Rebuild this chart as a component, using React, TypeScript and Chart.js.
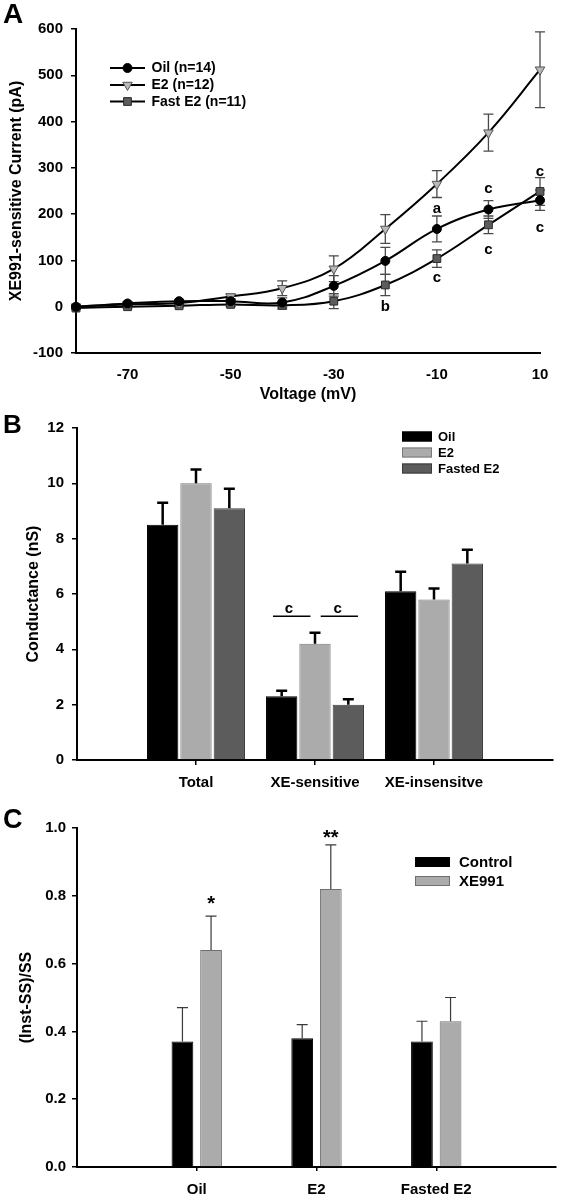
import React, { useEffect, useRef } from 'react';
import { Chart, registerables } from 'chart.js';

Chart.register(...registerables);

const FONT = '"Liberation Sans", Arial, Helvetica, sans-serif';
Chart.defaults.font.family = FONT;
Chart.defaults.font.weight = 'bold';
Chart.defaults.color = '#000';

// ---------------- Panel A data ----------------
const voltages = [-80, -70, -60, -50, -40, -30, -20, -10, 0, 10];
const voltageTicks = [-70, -50, -30, -10, 10];
const currentTicks = [-100, 0, 100, 200, 300, 400, 500, 600];
const oilCurrent = [0, 7, 12, 12, 9, 45, 99, 168, 210, 230];
const oilErr = [3, 3, 4, 4, 10, 22, 29, 28, 19, 22];
const e2Current = [0, 5, 8, 22, 40, 82, 168, 265, 376, 512];
const e2Err = [3, 3, 4, 5, 16, 28, 31, 29, 40, 82];
const fastCurrent = [-3, 0, 2, 5, 3, 12, 47, 104, 177, 249];
const fastErr = [3, 3, 3, 5, 8, 16, 23, 19, 19, 30];
const seriesNamesA = ['Oil (n=14)', 'E2 (n=12)', 'Fast E2 (n=11)'];
const lettersA = [
  { x: -10, y: 212, text: 'a' },
  { x: -20, y: 0, text: 'b' },
  { x: -10, y: 63, text: 'c' },
  { x: 0, y: 255, text: 'c' },
  { x: 0, y: 123, text: 'c' },
  { x: 10, y: 292, text: 'c' },
  { x: 10, y: 171, text: 'c' },
];

// ---------------- Panel B data ----------------
const bCategories = ['Total', 'XE-sensitive', 'XE-insensitve'];
const bSeriesNames = ['Oil', 'E2', 'Fasted E2'];
const bOil = [8.5, 2.3, 6.1];
const bOilErr = [0.8, 0.2, 0.7];
const bE2 = [10.0, 4.2, 5.8];
const bE2Err = [0.5, 0.4, 0.4];
const bFasted = [9.1, 2.0, 7.1];
const bFastedErr = [0.7, 0.2, 0.5];
const bTicks = [0, 2, 4, 6, 8, 10, 12];
const bSigLines = [
  { from: 1.647, to: 1.962, y: 5.2 },
  { from: 2.048, to: 2.361, y: 5.2 },
];
const bSigTexts = [
  { x: 1.78, y: 5.46, text: 'c' },
  { x: 2.19, y: 5.46, text: 'c' },
];

// ---------------- Panel C data ----------------
const cCategories = ['Oil', 'E2', 'Fasted E2'];
const cSeriesNames = ['Control', 'XE991'];
const cControl = [0.37, 0.38, 0.37];
const cControlErr = [0.10, 0.04, 0.06];
const cXE991 = [0.64, 0.82, 0.43];
const cXE991Err = [0.10, 0.13, 0.07];
const cTicks = [0, 0.2, 0.4, 0.6, 0.8, 1.0];
const cStars = [
  { category: 1, dataset: 1, y: 0.775, text: '*' },
  { category: 2, dataset: 1, y: 0.97, text: '**' },
];

const pad = (a: (number | null)[]) => [null, ...a, null];
const f = (size: number) => ({ family: FONT, size, weight: 'bold' as const });

function drawMarker(ctx: CanvasRenderingContext2D, style: string, x: number, y: number, r: number, fill: string, stroke: string, bw: number) {
  ctx.save();
  ctx.fillStyle = fill;
  ctx.strokeStyle = stroke;
  ctx.lineWidth = bw;
  ctx.beginPath();
  if (style === 'circle') {
    ctx.arc(x, y, r, 0, Math.PI * 2);
  } else if (style === 'triangle') {
    const s = Math.sin(Math.PI / 3) * r;
    ctx.moveTo(x, y + r);
    ctx.lineTo(x - s, y - r / 2);
    ctx.lineTo(x + s, y - r / 2);
    ctx.closePath();
  } else {
    const h = Math.SQRT1_2 * r;
    ctx.rect(x - h, y - h, 2 * h, 2 * h);
  }
  ctx.fill();
  if (bw > 0) ctx.stroke();
  ctx.restore();
}

const panelLetter = (letter: string, x: number, y: number, size: number) => ({
  id: 'panelLetter' + letter,
  afterDraw(chart: any) {
    const ctx = chart.ctx as CanvasRenderingContext2D;
    ctx.save();
    ctx.font = `bold ${size}px ${FONT}`;
    ctx.fillStyle = '#000';
    ctx.textBaseline = 'alphabetic';
    ctx.textAlign = 'left';
    ctx.fillText(letter, x, y);
    ctx.restore();
  },
});

// ---------------- Panel A ----------------
function makeA(): any {
  const errs = [oilErr, e2Err, fastErr];
  const errorPlugin = {
    id: 'errA',
    beforeDatasetsDraw(chart: any) {
      const ctx = chart.ctx as CanvasRenderingContext2D;
      const ys = chart.scales.y;
      ctx.save();
      ctx.strokeStyle = '#4a4a4a';
      ctx.lineWidth = 1.3;
      errs.forEach((arr, di) => {
        const meta = chart.getDatasetMeta(di);
        arr.forEach((e, i) => {
          const pt = meta.data[i];
          const v = chart.data.datasets[di].data[i].y;
          const yt = ys.getPixelForValue(v + e);
          const yb = ys.getPixelForValue(v - e);
          ctx.beginPath();
          ctx.moveTo(pt.x, yt); ctx.lineTo(pt.x, yb);
          ctx.moveTo(pt.x - 5, yt); ctx.lineTo(pt.x + 5, yt);
          ctx.moveTo(pt.x - 5, yb); ctx.lineTo(pt.x + 5, yb);
          ctx.stroke();
        });
      });
      ctx.restore();
    },
  };
  const lettersPlugin = {
    id: 'lettersA',
    afterDatasetsDraw(chart: any) {
      const ctx = chart.ctx as CanvasRenderingContext2D;
      ctx.save();
      ctx.font = `bold 15px ${FONT}`;
      ctx.fillStyle = '#000';
      ctx.textAlign = 'center';
      ctx.textBaseline = 'middle';
      lettersA.forEach((l) => {
        ctx.fillText(l.text, chart.scales.x.getPixelForValue(l.x), chart.scales.y.getPixelForValue(l.y));
      });
      ctx.restore();
    },
  };
  const legendPlugin = {
    id: 'legendA',
    afterDraw(chart: any) {
      const ctx = chart.ctx as CanvasRenderingContext2D;
      const rows = [68, 85, 101.5];
      ctx.save();
      chart.data.datasets.forEach((ds: any, i: number) => {
        const y = rows[i];
        ctx.strokeStyle = '#000';
        ctx.lineWidth = 2;
        ctx.beginPath();
        ctx.moveTo(110, y); ctx.lineTo(145, y);
        ctx.stroke();
        drawMarker(ctx, ds.pointStyle, 127.5, y, ds.pointRadius, ds.pointBackgroundColor, ds.pointBorderColor, ds.pointBorderWidth);
        ctx.font = `bold 14px ${FONT}`;
        ctx.fillStyle = '#000';
        ctx.textAlign = 'left';
        ctx.textBaseline = 'middle';
        ctx.fillText(ds.label, 151.5, y + 0.5);
      });
      ctx.restore();
    },
  };
  const mk = (label: string, vals: number[], style: string, r: number, fill: string, stroke: string, rot: number) => ({
    label,
    data: voltages.map((v, i) => ({ x: v, y: vals[i] })),
    borderColor: '#000',
    borderWidth: 2,
    tension: 0.4,
    pointStyle: style,
    pointRadius: r,
    pointRotation: rot,
    pointBackgroundColor: fill,
    pointBorderColor: stroke,
    pointBorderWidth: 1,
    clip: false,
  });
  return {
    type: 'line',
    data: {
      datasets: [
        mk(seriesNamesA[0], oilCurrent, 'circle', 4.5, '#000', '#000', 0),
        mk(seriesNamesA[1], e2Current, 'triangle', 5.5, '#b8b8b8', '#555', 180),
        mk(seriesNamesA[2], fastCurrent, 'rect', 5.5, '#5c5c5c', '#2a2a2a', 0),
      ],
    },
    options: {
      responsive: false,
      animation: false,
      devicePixelRatio: 1,
      layout: { padding: { left: 0, right: 26, top: 29, bottom: 0 } },
      plugins: { legend: { display: false }, tooltip: { enabled: false } },
      scales: {
        x: {
          type: 'linear',
          min: -80,
          max: 10,
          afterBuildTicks: (ax: any) => { ax.ticks = voltageTicks.map((v) => ({ value: v })); },
          afterFit: (ax: any) => { ax.height = 67; },
          grid: { display: false, drawTicks: false, tickLength: 0 },
          border: { display: true, color: '#000', width: 2 },
          ticks: { font: f(15), color: '#000', padding: 13, maxRotation: 0, callback: (v: any) => String(v) },
          title: { display: true, text: 'Voltage (mV)', font: f(16), color: '#000', padding: { top: 0, bottom: 16 } },
        },
        y: {
          type: 'linear',
          min: -100,
          max: 600,
          afterBuildTicks: (ax: any) => { ax.ticks = currentTicks.map((v) => ({ value: v })); },
          afterFit: (ax: any) => { ax.width = 76; },
          grid: { display: true, drawOnChartArea: false, drawTicks: true, tickLength: 5, color: '#000', lineWidth: 1.5 },
          border: { display: true, color: '#000', width: 2 },
          ticks: { font: f(15), color: '#000', padding: 8, callback: (v: any) => String(v) },
          title: { display: true, text: 'XE991-sensitive Current (pA)', font: f(16), color: '#000', padding: { top: 7, bottom: 0 } },
        },
      },
    },
    plugins: [errorPlugin, lettersPlugin, legendPlugin, panelLetter('A', 3, 23, 28)],
  };
}

// shared bar helpers
const barErrorPlugin = (id: string, errs: (number | null)[][], color: string, width: number, cap: number) => ({
  id,
  afterDatasetsDraw(chart: any) {
    const ctx = chart.ctx as CanvasRenderingContext2D;
    const ys = chart.scales.y;
    ctx.save();
    ctx.strokeStyle = color;
    ctx.lineWidth = width;
    errs.forEach((arr, di) => {
      const meta = chart.getDatasetMeta(di);
      arr.forEach((e, i) => {
        if (e == null) return;
        const el = meta.data[i];
        const v = chart.data.datasets[di].data[i];
        const yt = ys.getPixelForValue(v + e);
        ctx.beginPath();
        ctx.moveTo(el.x, el.y); ctx.lineTo(el.x, yt);
        ctx.moveTo(el.x - cap / 2, yt); ctx.lineTo(el.x + cap / 2, yt);
        ctx.stroke();
      });
    });
    ctx.restore();
  },
});

const boxLegendPlugin = (id: string, x: number, w: number, h: number, rows: number[], textX: number, size: number) => ({
  id,
  afterDraw(chart: any) {
    const ctx = chart.ctx as CanvasRenderingContext2D;
    ctx.save();
    chart.data.datasets.forEach((ds: any, i: number) => {
      const y = rows[i];
      ctx.fillStyle = ds.backgroundColor;
      ctx.fillRect(x, y - h / 2, w, h);
      ctx.strokeStyle = ds.borderColor;
      ctx.lineWidth = 1;
      ctx.strokeRect(x + 0.5, y - h / 2 + 0.5, w - 1, h - 1);
      ctx.font = `bold ${size}px ${FONT}`;
      ctx.fillStyle = '#000';
      ctx.textAlign = 'left';
      ctx.textBaseline = 'middle';
      ctx.fillText(ds.label, textX, y + 0.5);
    });
    ctx.restore();
  },
});

const catTickColor = (n: number) => (c: any) => (c.index === 0 || c.index === n + 1 ? 'rgba(0,0,0,0)' : '#000');

// ---------------- Panel B ----------------
function makeB(): any {
  const sigPlugin = {
    id: 'sigB',
    afterDatasetsDraw(chart: any) {
      const ctx = chart.ctx as CanvasRenderingContext2D;
      const xs = chart.scales.x;
      const ys = chart.scales.y;
      ctx.save();
      ctx.strokeStyle = '#000';
      ctx.lineWidth = 1.5;
      bSigLines.forEach((s) => {
        const y = ys.getPixelForValue(s.y);
        ctx.beginPath();
        ctx.moveTo(xs.getPixelForValue(s.from), y);
        ctx.lineTo(xs.getPixelForValue(s.to), y);
        ctx.stroke();
      });
      ctx.font = `bold 15px ${FONT}`;
      ctx.fillStyle = '#000';
      ctx.textAlign = 'center';
      ctx.textBaseline = 'middle';
      bSigTexts.forEach((t) => {
        ctx.fillText(t.text, xs.getPixelForValue(t.x), ys.getPixelForValue(t.y));
      });
      ctx.restore();
    },
  };
  return {
    type: 'bar',
    data: {
      labels: ['', ...bCategories, ''],
      datasets: [
        { label: bSeriesNames[0], data: pad(bOil), backgroundColor: '#000000', borderColor: '#000000', borderWidth: 1 },
        { label: bSeriesNames[1], data: pad(bE2), backgroundColor: '#ababab', borderColor: '#7a7a7a', borderWidth: 1 },
        { label: bSeriesNames[2], data: pad(bFasted), backgroundColor: '#5c5c5c', borderColor: '#3a3a3a', borderWidth: 1 },
      ],
    },
    options: {
      responsive: false,
      animation: false,
      devicePixelRatio: 1,
      categoryPercentage: 0.84,
      barPercentage: 0.94,
      layout: { padding: { left: 0, right: 13, top: 28, bottom: 0 } },
      plugins: { legend: { display: false }, tooltip: { enabled: false } },
      scales: {
        x: {
          type: 'category',
          offset: false,
          afterFit: (ax: any) => { ax.height = 40; },
          grid: { display: true, offset: false, drawOnChartArea: false, drawTicks: true, tickLength: 5, lineWidth: 1.5, color: catTickColor(bCategories.length) },
          border: { display: true, color: '#000', width: 2 },
          ticks: { font: f(15), color: '#000', padding: 9, autoSkip: false, maxRotation: 0 },
        },
        y: {
          type: 'linear',
          min: 0,
          max: 12,
          afterBuildTicks: (ax: any) => { ax.ticks = bTicks.map((v) => ({ value: v })); },
          afterFit: (ax: any) => { ax.width = 77; },
          grid: { display: true, drawOnChartArea: false, drawTicks: true, tickLength: 5, color: '#000', lineWidth: 1.5 },
          border: { display: true, color: '#000', width: 2 },
          ticks: { font: f(15), color: '#000', padding: 8, callback: (v: any) => String(v) },
          title: { display: true, text: 'Conductance (nS)', font: f(16), color: '#000', padding: { top: 24, bottom: 0 } },
        },
      },
    },
    plugins: [
      barErrorPlugin('errB', [pad(bOilErr), pad(bE2Err), pad(bFastedErr)], '#000', 2.5, 11),
      sigPlugin,
      boxLegendPlugin('legB', 402, 30, 10, [36.5, 52.5, 68.5], 438, 13),
      panelLetter('B', 3, 33, 26),
    ],
  };
}

// ---------------- Panel C ----------------
function makeC(): any {
  const starPlugin = {
    id: 'starsC',
    afterDatasetsDraw(chart: any) {
      const ctx = chart.ctx as CanvasRenderingContext2D;
      const ys = chart.scales.y;
      ctx.save();
      ctx.font = `bold 20px ${FONT}`;
      ctx.fillStyle = '#000';
      ctx.textAlign = 'center';
      ctx.textBaseline = 'middle';
      cStars.forEach((s) => {
        const el = chart.getDatasetMeta(s.dataset).data[s.category];
        ctx.fillText(s.text, el.x, ys.getPixelForValue(s.y));
      });
      ctx.restore();
    },
  };
  return {
    type: 'bar',
    data: {
      labels: ['', ...cCategories, ''],
      datasets: [
        { label: cSeriesNames[0], data: pad(cControl), backgroundColor: '#000000', borderColor: '#000000', borderWidth: 1 },
        { label: cSeriesNames[1], data: pad(cXE991), backgroundColor: '#ababab', borderColor: '#6f6f6f', borderWidth: 1 },
      ],
    },
    options: {
      responsive: false,
      animation: false,
      devicePixelRatio: 1,
      categoryPercentage: 0.478,
      barPercentage: 0.76,
      layout: { padding: { left: 0, right: 3, top: 28, bottom: 0 } },
      plugins: { legend: { display: false }, tooltip: { enabled: false } },
      scales: {
        x: {
          type: 'category',
          offset: false,
          afterFit: (ax: any) => { ax.height = 33; },
          grid: { display: true, offset: false, drawOnChartArea: false, drawTicks: true, tickLength: 4, lineWidth: 1.5, color: catTickColor(cCategories.length) },
          border: { display: true, color: '#000', width: 2 },
          ticks: { font: f(15), color: '#000', padding: 10, autoSkip: false, maxRotation: 0 },
        },
        y: {
          type: 'linear',
          min: 0,
          max: 1,
          afterBuildTicks: (ax: any) => { ax.ticks = cTicks.map((v) => ({ value: v })); },
          afterFit: (ax: any) => { ax.width = 77; },
          grid: { display: true, drawOnChartArea: false, drawTicks: true, tickLength: 5, color: '#000', lineWidth: 1.5 },
          border: { display: true, color: '#000', width: 2 },
          ticks: { font: f(15), color: '#000', padding: 6, callback: (v: any) => Number(v).toFixed(1) },
          title: { display: true, text: '(Inst-SS)/SS', font: f(16), color: '#000', padding: { top: 17, bottom: 0 } },
        },
      },
    },
    plugins: [
      barErrorPlugin('errC', [pad(cControlErr), pad(cXE991Err)], '#3a3a3a', 1.2, 11),
      starPlugin,
      boxLegendPlugin('legC', 415, 35, 10, [62, 81], 459, 15),
      panelLetter('C', 3, 28, 27),
    ],
  };
}

function ChartCanvas({ top, height, make }: { top: number; height: number; make: () => any }) {
  const ref = useRef<HTMLCanvasElement>(null);
  useEffect(() => {
    const chart = new Chart(ref.current as HTMLCanvasElement, make());
    return () => chart.destroy();
  }, []);
  return (
    <canvas
      ref={ref}
      width={566}
      height={height}
      style={{ position: 'absolute', left: 0, top, width: 566, height, display: 'block' }}
    />
  );
}

export default function App() {
  return (
    <div style={{ position: 'absolute', left: 0, top: 0, width: 566, height: 1200, background: '#fff', overflow: 'hidden' }}>
      <ChartCanvas top={0} height={420} make={makeA} />
      <ChartCanvas top={400} height={400} make={makeB} />
      <ChartCanvas top={800} height={400} make={makeC} />
    </div>
  );
}
